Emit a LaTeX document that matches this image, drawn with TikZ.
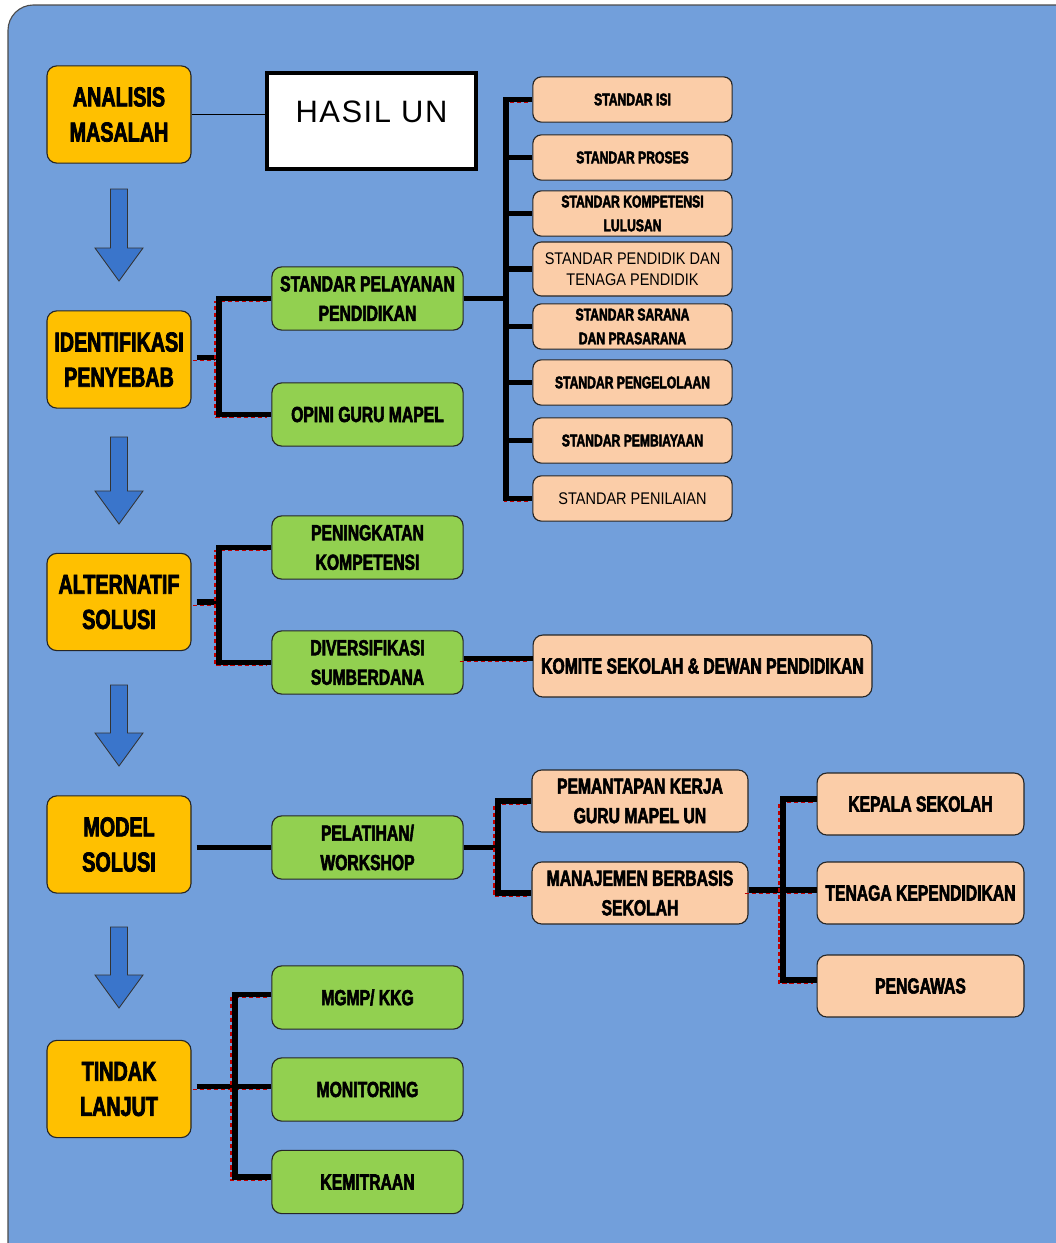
\documentclass[tikz,border=0pt]{standalone}
\usepackage{fontspec}
\setmainfont{Liberation Sans}
\newfontfamily\narrowfont{Liberation Sans Bold}[FakeStretch=0.72, FakeBold=2.6]
\newfontfamily\semifont{Liberation Sans}[FakeStretch=0.86]
\newfontfamily\spacedfont{Liberation Sans}[LetterSpace=5]
\usetikzlibrary{positioning,calc}
\definecolor{panel}{HTML}{729FDB}
\definecolor{stageFill}{HTML}{FFC000}
\definecolor{causeFill}{HTML}{92D050}
\definecolor{peach}{HTML}{FBCDA8}
\definecolor{arrowBlue}{HTML}{3A75CB}
\definecolor{ghostRed}{HTML}{C00000}
\tikzset{
  stage/.style={draw=black!85, line width=0.8pt, rounded corners=7pt, fill=stageFill, minimum width=3.6cm,
                minimum height=2.43cm, font=\narrowfont\fontsize{19.5}{25}\selectfont, align=center},
  cause/.style={draw=black!85, line width=0.8pt, rounded corners=7pt, fill=causeFill, minimum width=4.78cm,
                minimum height=1.58cm, font=\narrowfont\fontsize{15.5}{21}\selectfont, align=center},
  std/.style={draw=black!85, line width=0.8pt, rounded corners=6pt, fill=peach, minimum width=4.98cm,
              minimum height=1.13cm, font=\narrowfont\fontsize{12}{17}\selectfont, align=center},
  item/.style={draw=black!85, line width=0.8pt, rounded corners=7pt, fill=peach, minimum width=5.4cm,
               minimum height=1.55cm, font=\narrowfont\fontsize{15.5}{21}\selectfont, align=center},
  link/.style={draw=black, line width=3.6pt},
  ghost/.style={draw=ghostRed, densely dashed, line width=0.8pt,
                transform canvas={shift={(-0.1cm,-0.08cm)}}},
  downarrow/.style={fill=arrowBlue, draw=black!80, line width=0.6pt}
}
\newcommand{\wire}[1]{\draw[ghost] #1; \draw[link] #1;}

\begin{document}
\begin{tikzpicture}[x=0.025cm, y=-0.025cm]
  \useasboundingbox (0,0) rectangle (1055,1243);
  \fill[white] (0,0) rectangle (1055,1243);
  \draw[fill=panel, draw=black!70, line width=0.8pt, rounded corners=18pt] (8,5) rectangle (1085,1275);

  % main steps
  \node[stage] (analisis) at (119,114.5) {ANALISIS\\MASALAH};
  \node[stage] (ident) at (119,359.5) {IDENTIFIKASI\\PENYEBAB};
  \node[stage] (alt) at (119,602) {ALTERNATIF\\SOLUSI};
  \node[stage] (model) at (119,844.5) {MODEL\\SOLUSI};
  \node[stage] (tindak) at (119,1089) {TINDAK\\LANJUT};
  \foreach \top/\tip in {189/281,437/524,685/766,927/1008}
    \draw[downarrow] (110.5,\top) -- (127.5,\top) -- (127.5,\tip-33) -- (143,\tip-33)
      -- (119,\tip) -- (95,\tip-33) -- (110.5,\tip-33) -- cycle;

  \node[draw=black, line width=3pt, fill=white, minimum width=5.22cm, minimum height=2.4cm,
        font=\spacedfont\fontsize{22}{26}\selectfont, text height=0.6cm, text depth=0.52cm]
        (hasil) at (371.5,121) {HASIL UN};

  % second level
  \node[cause] (spp) at (367.5,298.5) {STANDAR PELAYANAN\\PENDIDIKAN};
  \node[cause] (opini) at (367.5,414.5) {OPINI GURU MAPEL};
  \node[cause] (ningkat) at (367.5,547.5) {PENINGKATAN\\KOMPETENSI};
  \node[cause] (divers) at (367.5,662.5) {DIVERSIFIKASI\\SUMBERDANA};
  \node[cause] (latih) at (367.5,847.5) {PELATIHAN/\\WORKSHOP};
  \node[cause] (mgmp) at (367.5,997.5) {MGMP/ KKG};
  \node[cause] (monitor) at (367.5,1089.5) {MONITORING};
  \node[cause] (mitra) at (367.5,1182) {KEMITRAAN};

  % standards
  \node[std] (isi) at (632.5,99.5) {STANDAR ISI};
  \node[std] (proses) at (632.5,157.5) {STANDAR PROSES};
  \node[std] (skl) at (632.5,213.5) {STANDAR KOMPETENSI\\LULUSAN};
  \node[std, minimum height=1.35cm, font=\semifont\fontsize{12}{15}\selectfont] (ptk) at (632.5,269)
       {STANDAR PENDIDIK DAN\\TENAGA PENDIDIK};
  \node[std] (sarpras) at (632.5,326.5) {STANDAR SARANA\\DAN PRASARANA};
  \node[std] (kelola) at (632.5,382.5) {STANDAR PENGELOLAAN};
  \node[std] (biaya) at (632.5,440.5) {STANDAR PEMBIAYAAN};
  \node[std, font=\semifont\fontsize{12}{15}\selectfont] (nilai) at (632.5,498.5) {STANDAR PENILAIAN};

  \node[item, minimum width=8.47cm] (komite) at (702.5,666) {KOMITE SEKOLAH \& DEWAN PENDIDIKAN};
  \node[item] (pantap) at (640,801) {PEMANTAPAN KERJA\\GURU MAPEL UN};
  \node[item] (mbs) at (640,893) {MANAJEMEN BERBASIS\\SEKOLAH};
  \node[item, minimum width=5.17cm] (kepala) at (920.5,804) {KEPALA SEKOLAH};
  \node[item, minimum width=5.17cm] (tenaga) at (920.5,893) {TENAGA KEPENDIDIKAN};
  \node[item, minimum width=5.17cm] (awas) at (920.5,986) {PENGAWAS};

  % connectors
  \coordinate (jLeft) at (219,0);
  \coordinate (jStd) at (506,0);
  \coordinate (jLatih) at (498,0);
  \coordinate (jMbs) at (783,0);
  \coordinate (jTindak) at (235,0);

  \draw[line width=0.8pt] (analisis.east) -- (analisis.east -| hasil.west);

  \wire{($(ident.east)+(5,-2)$) -- ($(jLeft |- ident.east)+(0,-2)$)}
  \wire{(spp.west) -| (jLeft |- opini.west) -- (opini.west)}

  \draw[link] (spp.east) -- (jStd |- spp.east);
  \draw[ghost] (isi.west) -- ++(-24,0);
  \draw[ghost] (nilai.west) -- ++(-24,0);
  \draw[link] (isi.west) -| (jStd |- nilai.west) -- (nilai.west);
  \foreach \s in {proses,skl,ptk,sarpras,kelola,biaya}
    \draw[link] (jStd |- \s.west) -- (\s.west);

  \wire{($(alt.east)+(5,0)$) -- (jLeft |- alt.east)}
  \wire{(ningkat.west) -| (jLeft |- divers.west) -- (divers.west)}
  \wire{($(divers.east)+(0,-4)$) -- ($(divers.east -| komite.west)+(0,-4)$)}

  \draw[link] ($(model.east |- latih.west)+(5,0)$) -- (latih.west);
  \draw[link] (latih.east) -- (jLatih |- latih.east);
  \wire{(pantap.west) -| (jLatih |- mbs.west) -- (mbs.west)}
  \wire{($(mbs.east)+(0,-3)$) -- ($(tenaga.west)+(0,-3)$)}
  \wire{($(kepala.west)+(0,-5)$) -| ($(jMbs |- awas.west)+(0,-6)$) -- ($(awas.west)+(0,-6)$)}

  \wire{($(tindak.east |- monitor.west)+(5,-3)$) -- ($(monitor.west)+(0,-3)$)}
  \wire{($(mgmp.west)+(0,-3)$) -| ($(jTindak |- mitra.west)+(0,-5)$) -- ($(mitra.west)+(0,-5)$)}
\end{tikzpicture}
\end{document}
